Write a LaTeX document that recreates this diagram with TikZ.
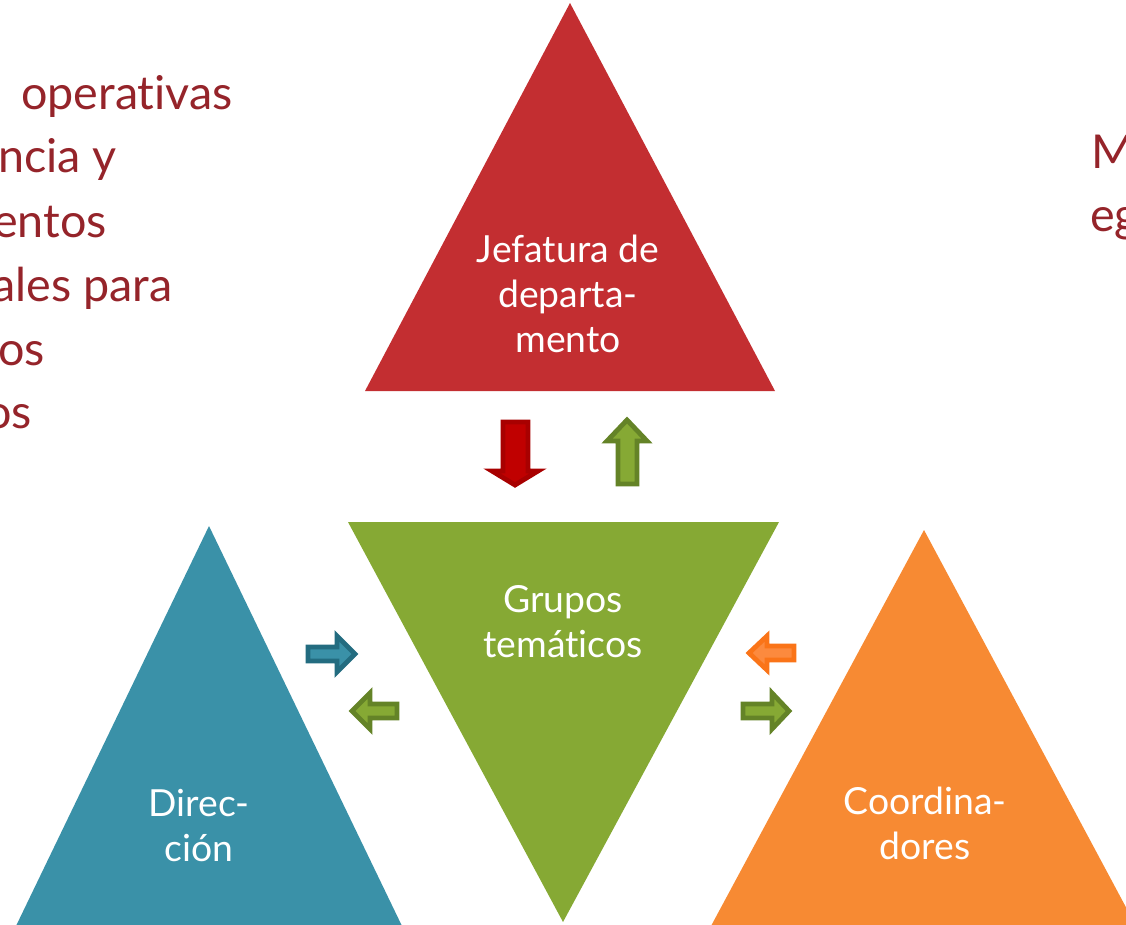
\documentclass[tikz,border=0pt]{standalone}
\usepackage{fontspec}
\setmainfont{Lato}[Ligatures={NoCommon}]
\definecolor{tred}{HTML}{C32E31}
\definecolor{tgreen}{HTML}{86A934}
\definecolor{tblue}{HTML}{3A91A8}
\definecolor{torange}{HTML}{F78A33}
\definecolor{txtred}{HTML}{95242A}
\definecolor{ared}{HTML}{C00000}
\definecolor{aredb}{HTML}{A80000}
\definecolor{agreenb}{HTML}{648327}
\definecolor{abluebd}{HTML}{236C80}
\definecolor{aorange}{HTML}{FC8A3E}
\definecolor{aorangeb}{HTML}{FA7418}
\tikzset{
  wtext/.style={text=white, align=center, font=\fontsize{28}{33.75}\selectfont, inner sep=0pt},
  sidetext/.style={text=txtred, font=\fontsize{35}{40}\selectfont, inner sep=0pt},
  blockarrow/.style={line width=3.6pt, line join=miter},
}
\begin{document}
\begin{tikzpicture}[x=0.75pt,y=-0.75pt]
\useasboundingbox (0,0) rectangle (1126,924);
\clip (0,0) rectangle (1126,924);
% triangles
\fill[tred] (570,3) -- (775,391) -- (365,391) -- cycle;
\fill[tgreen] (348,522) -- (779,522) -- (563,922) -- cycle;
\fill[tblue] (209,526) -- (402,926) -- (16,926) -- cycle;
\fill[torange] (924,530) -- (1136,926) -- (711,926) -- cycle;
% triangle labels
\node[wtext] (jef) at (568,294) {Jefatura de\\departa-\\mento};
\node[wtext] (gru) at (563,622) {Grupos\\temáticos};
\node[wtext] (dir) at (199,825) {Direc-\\ción};
\node[wtext] (coo) at (925,823) {Coordina-\\dores};
% side texts (cut off at the picture's edges, as in the reference)
\node[sidetext, anchor=base east] (l1) at (233,109) {operativas};
\node[sidetext, anchor=base east] (l2) at (117,172) {ncia y};
\node[sidetext, anchor=base east] (l3) at (107,237) {entos};
\node[sidetext, anchor=base east] (l4) at (173,301) {ales para};
\node[sidetext, anchor=base east] (l5) at (45,365) {os};
\node[sidetext, anchor=base east] (l6) at (32,428) {os};
\node[sidetext, anchor=base west] (r1) at (1091,168) {M};
\node[sidetext, anchor=base west] (r2) at (1090,231) {eg};
% block arrows
\draw[blockarrow, fill=ared, draw=aredb] (503,422) -- (528,422) -- (528,471) -- (538,471) -- (515,485) -- (492,471) -- (503,471) -- cycle;
\draw[blockarrow, fill=tgreen, draw=agreenb] (618,484) -- (637,484) -- (637,441) -- (647,441) -- (627,420) -- (607,441) -- (618,441) -- cycle;
\draw[blockarrow, fill=tblue, draw=abluebd] (308,647) -- (337,647) -- (337,636) -- (355,654) -- (337,672) -- (337,661) -- (308,661) -- cycle;
\draw[blockarrow, fill=tgreen, draw=agreenb] (397,704) -- (370,704) -- (370,693) -- (352,711) -- (370,729) -- (370,718) -- (397,718) -- cycle;
\draw[blockarrow, fill=aorange, draw=aorangeb] (794,646) -- (767,646) -- (767,636) -- (749,653) -- (767,670) -- (767,660) -- (794,660) -- cycle;
\draw[blockarrow, fill=tgreen, draw=agreenb] (743,704) -- (772,704) -- (772,693) -- (789,711) -- (772,729) -- (772,718) -- (743,718) -- cycle;
\end{tikzpicture}
\end{document}
